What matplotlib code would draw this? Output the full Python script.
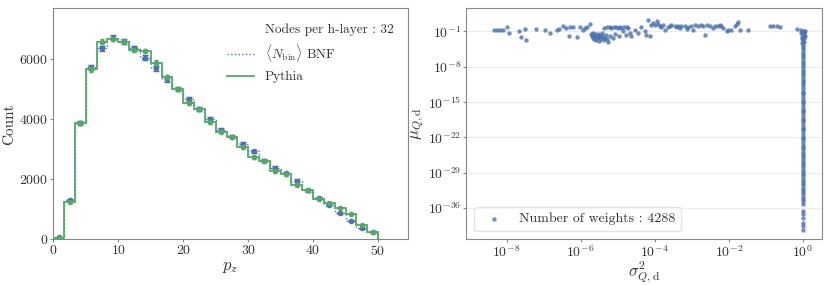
import numpy as np
import matplotlib
matplotlib.use("Agg")
import matplotlib.pyplot as plt
from matplotlib.lines import Line2D

plt.rcParams.update({
    "font.family": "serif",
    "font.serif": ["cmr10"],
    "mathtext.fontset": "cm",
    "axes.unicode_minus": False,
    "axes.formatter.use_mathtext": True,
    "font.size": 10,
    "axes.edgecolor": "#888888",
    "xtick.color": "#888888",
    "ytick.color": "#888888",
    "xtick.labelcolor": "#333333",
    "ytick.labelcolor": "#333333",
    "text.color": "#333333",
    "axes.labelcolor": "#333333",
})

BLUE = "#4C72B0"
GREEN = "#55A868"

# ---------------- left panel data ----------------
bin_edges = np.linspace(0, 50, 31)
pythia_counts = [50, 1233, 3867, 5667, 6587, 6677, 6587, 6310, 6277, 5888,
                 5400, 5000, 4533, 4343, 3910, 3590, 3420, 3070, 2740, 2620,
                 2270, 2160, 1820, 1630, 1340, 1200, 1030, 830, 470, 235]
bnf_counts = [70, 1300, 3880, 5730, 6367, 6720, 6600, 6367, 6055, 5700,
              5330, 5000, 4667, 4330, 4000, 3640, 3420, 3180, 2930, 2620,
              2380, 2210, 1950, 1630, 1370, 1130, 880, 620, 370, 240]

# ---------------- right panel data ----------------
top_logx = [-8.33, -8.25, -8.18, -8.11, -8.00, -7.94, -7.67, -7.62, -7.50, -7.48,
            -7.22, -6.96, -6.83, -6.65, -6.58, -6.47, -6.41, -6.33, -6.29, -6.20,
            -6.09, -6.02, -5.95, -5.88, -5.82, -5.75, -5.66,
            -5.72, -5.70, -5.68, -5.66, -5.64, -5.62, -5.60, -5.58, -5.56, -5.55,
            -5.53, -5.51, -5.50, -5.48, -5.46, -5.44, -5.42, -5.40, -5.38, -5.36,
            -5.34, -5.32, -5.30, -5.28, -5.25, -5.22, -5.20, -5.17, -5.14, -5.10,
            -5.07, -5.04, -5.00, -4.97, -4.93, -4.90, -4.86, -4.82, -4.78, -4.75,
            -4.72, -4.68, -4.63, -4.54, -4.45, -4.36, -4.27, -4.23, -4.18, -4.14,
            -4.09, -4.05, -4.00, -3.95, -3.91, -3.86, -3.82, -3.77, -3.73, -3.64,
            -3.59, -3.55, -3.46, -3.41, -3.37, -3.32, -3.28, -3.19, -3.14, -3.10,
            -3.01, -2.96, -2.92, -2.83, -2.74, -2.69, -2.65, -2.60, -2.51, -2.42,
            -2.38, -2.29, -2.24, -2.20, -2.15, -2.06, -2.02, -1.93, -1.84, -1.79,
            -1.75, -1.70, -1.48, -0.89, -0.80, -0.71, -0.62, -0.17]
top_logy = [-0.67, -0.80, -0.80, -0.80, -0.14, -1.26, -1.00, -2.00, -0.54, -2.66,
            -0.47, -0.80, -1.26, -0.67, -0.54, 0.00, -0.34, -1.86, -0.14, -0.14,
            -2.00, -0.14, -0.67, -0.34, -0.20, 0.52, -1.33,
            -1.5, -1.9, -2.2, -1.7, -2.4, -1.4, -2.0, -2.6, -1.8, -2.2,
            -1.5, -2.9, -2.0, -1.6, -2.4, -2.1, -1.3, -1.9, -2.7, -0.3,
            -2.2, -1.7, -0.2, -2.4, -3.0, -0.1, -1.8, -0.3, -2.3, -0.2,
            -1.4, -0.1, -0.3, -1.9, -0.2, -0.4, -1.0, -0.2, -1.6, -0.1,
            -0.34, -1.33, -1.99, -0.67, -1.33, -0.14, -1.00, -1.66, 1.32, -1.99,
            0.32, 0.66, 0.32, 0.99, 0.52, 0.13, -0.01, 0.32, -0.67, -0.14,
            0.00, 0.32, 0.13, -0.14, 0.13, -0.34, 0.00, 0.00, -0.54, -0.14,
            0.13, -0.67, 0.32, 0.13, 0.32, 0.13, -1.66, 0.32, 0.13, -0.34,
            0.00, 0.13, 0.32, 0.00, -0.34, -1.00, -0.67, -0.67, 0.00, 0.52,
            0.79, -0.67, -0.67, 0.13, 0.00, 0.00, -0.14, -0.54]

col_top_logx = [-0.05, 0.02, 0.06, -0.03, 0.04, -0.06, 0.03, 0.00, 0.05, -0.02,
                0.02, 0.04, -0.01, 0.00, 0.03, -0.02]
col_top_logy = [-0.8, -0.9, -1.0, -1.1, -1.2, -1.3, -1.5, -1.6, -1.8, -2.0,
                -2.1, -2.3, -2.5, -2.8, -3.0, -3.3]
col_tail_logy = [-3.6, -4.1, -4.4, -5.0, -5.4, -5.8, -6.3, -6.9, -7.2, -7.6,
                 -8.1, -8.7, -9.0, -9.5, -9.8, -10.4, -10.9, -11.3, -11.6, -12.2,
                 -12.7, -13.1, -13.4, -14.0, -14.5, -14.9, -15.2, -15.8, -16.3, -16.7,
                 -17.0, -17.6, -18.1, -18.5, -18.8, -19.4, -19.9, -20.3, -20.6, -21.2,
                 -21.7, -22.1, -22.4, -23.0, -23.5, -23.9, -24.2, -24.8, -25.3, -25.7,
                 -26.0, -26.6, -27.1, -27.5, -27.8, -28.4, -28.9, -29.3, -29.6, -30.2,
                 -30.7, -31.1, -31.4, -32.0, -32.5, -32.9, -33.2, -33.8, -34.3, -34.7,
                 -35.3, -36.6, -37.2, -38.0, -38.9, -39.6, -40.3]
n_weights = 4288

fig = plt.figure(figsize=(8.3, 2.85), dpi=100)
ax1 = fig.add_axes([0.0642, 0.1604, 0.4273, 0.8105])
ax2 = fig.add_axes([0.5614, 0.1604, 0.4286, 0.8105])

# ---- left panel ----
centers = 0.5 * (bin_edges[:-1] + bin_edges[1:])
pyt = np.array(pythia_counts, float)
bnf = np.array(bnf_counts, float)
err_b = np.sqrt(bnf)
err_p = np.sqrt(pyt)

ax1.bar(centers, 2 * err_b, bottom=bnf - err_b, width=1.0, color=BLUE,
        alpha=0.25, linewidth=0, zorder=2)
ax1.stairs(bnf, bin_edges, color=BLUE, linestyle=":", linewidth=1.0, zorder=3)
ax1.errorbar(centers, bnf, yerr=err_b, fmt="o", color=BLUE, markersize=3,
             capsize=2, elinewidth=0.8, zorder=4)
ax1.stairs(pyt, bin_edges, color=GREEN, linewidth=1.3, zorder=5)
ax1.errorbar(centers, pyt, yerr=err_p, fmt="o", color=GREEN, markersize=3,
             capsize=1.5, elinewidth=0.8, zorder=6)

ax1.set_xlim(0, 54.6)
ax1.set_ylim(0, 7700)
ax1.set_xticks([0, 10, 20, 30, 40, 50])
ax1.set_yticks([0, 2000, 4000, 6000])
ax1.set_xlabel(r"$p_z$", fontsize=12, labelpad=1)
ax1.set_ylabel("Count", fontsize=11, labelpad=2)
ax1.tick_params(labelsize=10, length=2, pad=1.5)

handles = [Line2D([], [], linestyle="none", marker="none"),
           Line2D([], [], color=BLUE, linestyle=":", linewidth=1.0),
           Line2D([], [], color=GREEN, linewidth=1.3)]
labels = ["Nodes per h-layer : 32", r"$\langle N_{\rm bin}\rangle$ BNF", "Pythia"]
ax1.legend(handles, labels, loc="upper right", frameon=False, fontsize=9.6,
           borderaxespad=0.7)

# ---- right panel ----
tx = 10.0 ** np.array(top_logx)
ty = 10.0 ** np.array(top_logy)
cx = np.concatenate([10.0 ** np.array(col_top_logx), np.ones(len(col_tail_logy))])
cy = np.concatenate([10.0 ** np.array(col_top_logy), 10.0 ** np.array(col_tail_logy)])
xs = np.concatenate([tx, cx])
ys = np.concatenate([ty, cy])

ax2.scatter(xs, ys, s=10, color=BLUE, alpha=0.8, linewidths=0,
            label=f"Number of weights : {n_weights}", zorder=3)
ax2.set_xscale("log")
ax2.set_yscale("log")
ax2.set_xlim(10 ** -9.1, 10 ** 0.51)
ax2.set_ylim(10 ** -42.2, 10 ** 3.6)
ax2.set_xticks([1e-8, 1e-6, 1e-4, 1e-2, 1e0])
ax2.set_yticks([1e-1, 1e-8, 1e-15, 1e-22, 1e-29, 1e-36])
ax2.xaxis.set_minor_locator(matplotlib.ticker.NullLocator())
ax2.yaxis.set_minor_locator(matplotlib.ticker.NullLocator())
ax2.grid(axis="y", color="#ebebeb", linewidth=0.8, zorder=0)
ax2.set_axisbelow(True)
ax2.tick_params(labelsize=10, length=2, pad=1.5)
ax2.set_xlabel(r"$\sigma^{\mathbf{2}}_{Q,\mathrm{d}}$", fontsize=12, labelpad=0)
ax2.set_ylabel(r"$\mu_{Q,\mathrm{d}}$", fontsize=12, labelpad=1)
leg = ax2.legend(loc="lower left", fontsize=10, frameon=True, fancybox=True,
                 borderaxespad=0.6)
leg.get_frame().set_edgecolor("#dddddd")

fig.savefig("out.png", dpi=100)
